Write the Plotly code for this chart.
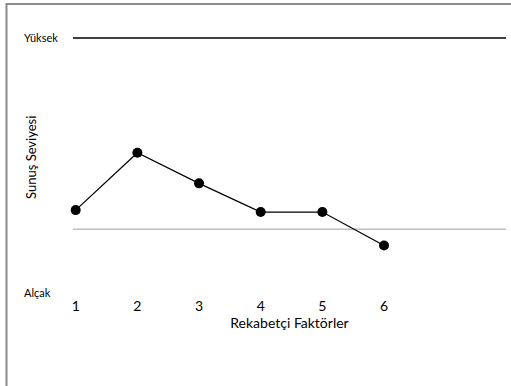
import plotly.graph_objects as go

factors = [1, 2, 3, 4, 5, 6]
levels = [1.0, 4.0, 2.4, 0.9, 0.9, -0.85]
high_level = 10
baseline_level = 0
low_label_level = -3.3
tick_labels = ["1", "2", "3", "4", "5", "6"]

FONT = "Lato, 'Open Sans', sans-serif"

fig = go.Figure()
fig.add_trace(go.Scatter(
    x=factors, y=levels, mode="lines+markers",
    line=dict(color="black", width=1.3),
    marker=dict(color="black", size=10),
    cliponaxis=False,
    showlegend=False, hoverinfo="skip",
))

W, H = 511, 386
ml, mr, mt, mb = 73, 5, 20, 90
pw = W - ml - mr
ph = H - mt - mb

def px_to_paper_x(px):
    return (px - ml) / pw

def px_to_paper_y(py):
    return 1 - (py - mt) / ph

fig.add_shape(type="line", xref="paper", yref="y", x0=0, x1=1,
              y0=high_level, y1=high_level, line=dict(color="black", width=1.3))
fig.add_shape(type="line", xref="paper", yref="y", x0=0, x1=1,
              y0=baseline_level, y1=baseline_level, line=dict(color="#c0c0c0", width=1.5), layer="below")
# outer frame (left and top)
fig.add_shape(type="line", xref="paper", yref="paper",
              x0=px_to_paper_x(6.5), x1=px_to_paper_x(6.5), y0=px_to_paper_y(4), y1=px_to_paper_y(400),
              line=dict(color="#8a8a8a", width=2))
fig.add_shape(type="line", xref="paper", yref="paper",
              x0=px_to_paper_x(5.5), x1=px_to_paper_x(520), y0=px_to_paper_y(4), y1=px_to_paper_y(4),
              line=dict(color="#8a8a8a", width=2))

fig.add_annotation(text="Yüksek", xref="paper", yref="y", x=px_to_paper_x(22), y=high_level,
                   xanchor="left", yanchor="middle", showarrow=False,
                   font=dict(family=FONT, size=11, color="black"))
fig.add_annotation(text="Alçak", xref="paper", yref="y", x=px_to_paper_x(22), y=low_label_level,
                   xanchor="left", yanchor="middle", showarrow=False,
                   font=dict(family=FONT, size=11, color="black"))
fig.add_annotation(text="Sunuş Seviyesi", xref="paper", yref="paper", x=px_to_paper_x(31), y=0.5,
                   textangle=-90, xanchor="center", yanchor="middle", showarrow=False,
                   font=dict(family=FONT, size=13, color="black"))

fig.update_layout(
    width=W, height=H,
    margin=dict(l=ml, r=mr, t=mt, b=mb, autoexpand=False),
    paper_bgcolor="white", plot_bgcolor="white",
    font=dict(family=FONT, color="black"),
    xaxis=dict(range=[0.956, 7.978], tickvals=factors, ticktext=tick_labels,
               showgrid=False, zeroline=False, showline=False, ticks="",
               tickfont=dict(size=14, color="black"),
               title=dict(text="Rekabetçi Faktörler", font=dict(size=14, color="black"), standoff=4),
               fixedrange=True),
    yaxis=dict(range=[-3.49, 10.94], showgrid=False, zeroline=False, showline=False,
               showticklabels=False, ticks="", fixedrange=True),
)

fig.write_html("out.html", config={"displayModeBar": False},
               post_script="document.body.style.margin='0';document.body.style.overflow='hidden';")
